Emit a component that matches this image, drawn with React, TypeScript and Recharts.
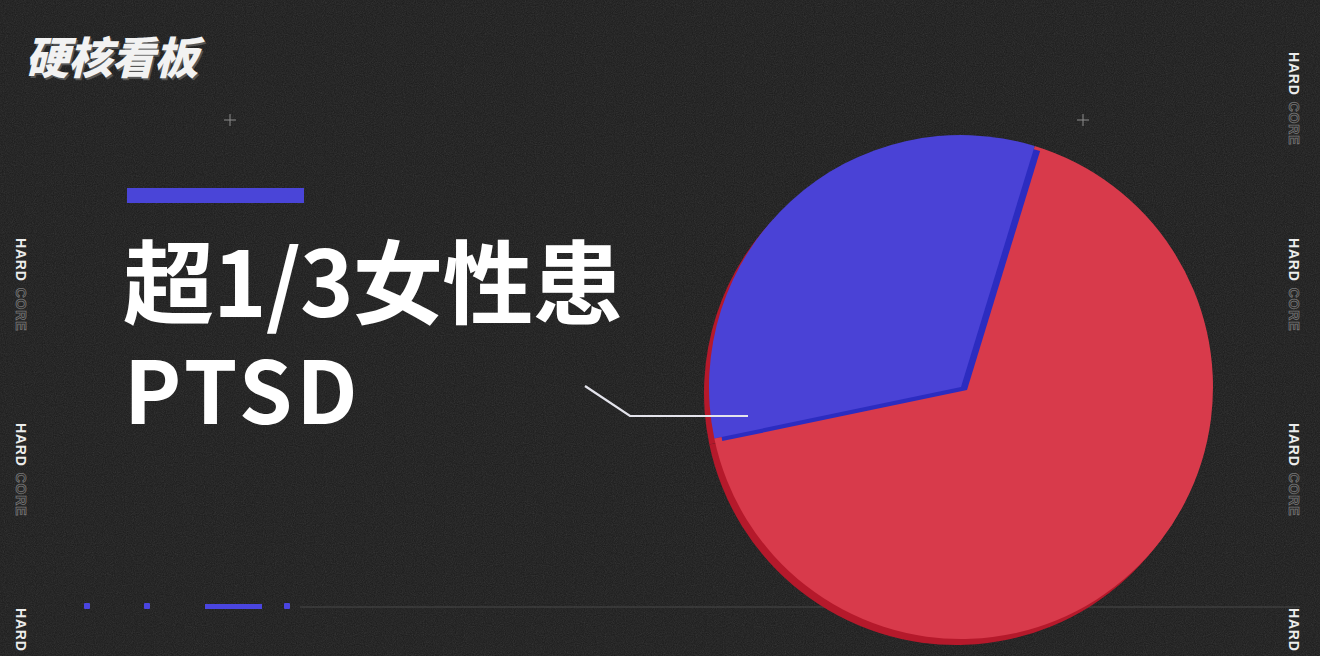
import React from "react";
import { PieChart, Pie, Cell } from "recharts";

const categories = ["女性患PTSD", "其他"];
const values = [33, 67];
const mainColors = ["#4a42d6", "#d83a4b"];
const sideColors = ["#2c2cc0", "transparent"];
const shadowColors = ["#b5192b", "#b5192b"];

const data = categories.map((name, i) => ({ name, value: values[i] }));

const title1 = "超1/3女性患";
const title2 = "PTSD";
const logo = "硬核看板";

const W = 1320;
const H = 656;
const CX = 956;
const CY = 382;
const R = 252;
const START = 73;

const sideMarks = [
  { x: 22, y: 238 },
  { x: 22, y: 423 },
  { x: 22, y: 608 },
  { x: 1295, y: 52 },
  { x: 1295, y: 238 },
  { x: 1295, y: 423 },
  { x: 1295, y: 608 },
];

const SideMark = ({ x, y }: { x: number; y: number }) => (
  <g transform={`translate(${x - 6}, ${y}) rotate(90)`}>
    <text
      x={0}
      y={0}
      fontFamily="Liberation Sans, Arial, sans-serif"
      fontWeight={700}
      fontSize={14}
      letterSpacing={0.8}
      fill="#ececec"
    >
      HARD
      <tspan dx={6} fill="none" stroke="#777777" strokeWidth={0.8}>
        CORE
      </tspan>
    </text>
  </g>
);

export default function App() {
  return (
    <div
      style={{
        position: "absolute",
        left: 0,
        top: 0,
        width: W,
        height: H,
        background: "#1b1b1b",
        overflow: "hidden",
      }}
    >
      <svg width={W} height={H} style={{ position: "absolute", left: 0, top: 0 }}>
        <defs>
          <filter id="noise">
            <feTurbulence type="fractalNoise" baseFrequency="0.9" numOctaves={2} seed={3} />
            <feColorMatrix type="saturate" values="0" />
            <feComponentTransfer>
              <feFuncA type="table" tableValues="0 0.35" />
            </feComponentTransfer>
          </filter>
        </defs>
        <rect x={0} y={0} width={W} height={H} filter="url(#noise)" opacity={0.45} />
        {/* plus marks */}
        <g stroke="#8c8c8c" strokeWidth={1}>
          <line x1={224} y1={120} x2={236} y2={120} />
          <line x1={230} y1={114} x2={230} y2={126} />
          <line x1={1077} y1={120} x2={1089} y2={120} />
          <line x1={1083} y1={114} x2={1083} y2={126} />
        </g>
        {/* bottom line */}
        <line x1={300} y1={607} x2={1300} y2={607} stroke="#484848" strokeWidth={1} />
        {/* bottom-left marks */}
        <rect x={84} y={603} width={6} height={6} rx={1} fill="#4a45e0" />
        <rect x={144} y={603} width={6} height={6} rx={1} fill="#4a45e0" />
        <rect x={205} y={604} width={57} height={5} fill="#4a45e0" />
        <rect x={284} y={603} width={6} height={6} rx={1} fill="#4a45e0" />
        {sideMarks.map((m, i) => (
          <SideMark key={i} x={m.x} y={m.y} />
        ))}
      </svg>

      <div style={{ position: "absolute", left: 0, top: 0 }}>
        <PieChart width={W} height={H}>
          <Pie
            data={data}
            dataKey="value"
            cx={CX - 5}
            cy={CY + 6}
            outerRadius={R}
            startAngle={START}
            endAngle={START + 360}
            stroke="none"
            isAnimationActive={false}
          >
            {data.map((d, i) => (
              <Cell key={`s-${i}`} fill={shadowColors[i]} />
            ))}
          </Pie>
          <Pie
            data={data}
            dataKey="value"
            cx={CX}
            cy={CY}
            outerRadius={R}
            startAngle={START}
            endAngle={START + 360}
            stroke="none"
            isAnimationActive={false}
          >
            {data.map((d, i) => (
              <Cell key={`r-${i}`} fill={i === 1 ? mainColors[1] : "transparent"} />
            ))}
          </Pie>
          <Pie
            data={data}
            dataKey="value"
            cx={CX + 6}
            cy={CY + 3}
            outerRadius={R - 2}
            startAngle={START}
            endAngle={START + 360}
            stroke="none"
            isAnimationActive={false}
          >
            {data.map((d, i) => (
              <Cell key={`d-${i}`} fill={sideColors[i]} />
            ))}
          </Pie>
          <Pie
            data={data}
            dataKey="value"
            cx={CX}
            cy={CY}
            outerRadius={R}
            startAngle={START}
            endAngle={START + 360}
            stroke="none"
            isAnimationActive={false}
          >
            {data.map((d, i) => (
              <Cell key={`b-${i}`} fill={i === 0 ? mainColors[0] : "transparent"} />
            ))}
          </Pie>
        </PieChart>
      </div>

      <svg width={W} height={H} style={{ position: "absolute", left: 0, top: 0, pointerEvents: "none" }}>
        <polyline
          points="585,386 630,416 748,416"
          fill="none"
          stroke="#e4e4ec"
          strokeWidth={2.2}
        />
      </svg>

      {/* logo */}
      <div
        style={{
          position: "absolute",
          left: 30,
          top: 27,
          fontFamily: "'Noto Sans CJK SC', sans-serif",
          fontWeight: 900,
          fontSize: 44,
          lineHeight: "56px",
          color: "#f2f2f2",
          transform: "skewX(-14deg)",
          letterSpacing: -1,
          textShadow: "2px 2px 0 #555",
          whiteSpace: "nowrap",
        }}
      >
        {logo}
      </div>

      {/* title bar */}
      <div
        style={{
          position: "absolute",
          left: 127,
          top: 188,
          width: 177,
          height: 15,
          background: "#4a45d8",
        }}
      />

      <div
        style={{
          position: "absolute",
          left: 123,
          top: 224,
          fontFamily: "'Noto Sans CJK SC', sans-serif",
          fontWeight: 700,
          fontSize: 91,
          lineHeight: "107px",
          color: "#ffffff",
          whiteSpace: "nowrap",
        }}
      >
        <span style={{ letterSpacing: -1 }}>{title1}</span>
        <br />
        <span style={{ fontSize: 86, letterSpacing: 4, marginLeft: 1 }}>{title2}</span>
      </div>
    </div>
  );
}
